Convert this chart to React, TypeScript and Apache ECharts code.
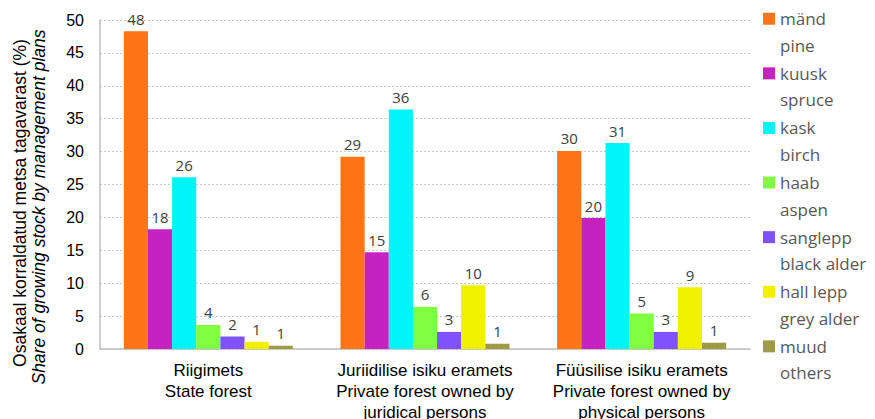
import React, { useEffect, useRef } from "react";
import * as echarts from "echarts";

const categories = [
  "Riigimets\nState forest",
  "Juriidilise isiku eramets\nPrivate forest owned by\njuridical persons",
  "Füüsilise isiku eramets\nPrivate forest owned by\nphysical persons",
];
const speciesEt = ["mänd", "kuusk", "kask", "haab", "sanglepp", "hall lepp", "muud"];
const speciesEn = ["pine", "spruce", "birch", "aspen", "black alder", "grey alder", "others"];
const colors = ["#FF7417", "#C621C1", "#00F6F6", "#80FF40", "#8052FF", "#F1F000", "#9F9B44"];
const mand = [48.3, 29.2, 30.1];
const kuusk = [18.2, 14.7, 19.9];
const kask = [26.1, 36.4, 31.3];
const haab = [3.65, 6.4, 5.4];
const sanglepp = [1.9, 2.6, 2.6];
const hallLepp = [1.1, 9.7, 9.4];
const muud = [0.5, 0.8, 0.96];
const seriesValues = [mand, kuusk, kask, haab, sanglepp, hallLepp, muud];
const yTitle1 = "Osakaal korraldatud metsa tagavarast (%)";
const yTitle2 = "Share of growing stock by management plans";

export default function App() {
  const ref = useRef<HTMLDivElement>(null);
  useEffect(() => {
    if (!ref.current) return;
    const chart = echarts.init(ref.current, null, { renderer: "svg" });
    const enMap: Record<string, string> = {};
    speciesEt.forEach((n, i) => (enMap[n] = speciesEn[i]));
    const legText = {
      fontFamily: "Open Sans, sans-serif",
      fontSize: 17,
      lineHeight: 26.5,
      color: "#595959",
    };
    chart.setOption({
      animation: false,
      grid: {
        left: 100,
        right: 125,
        top: 20,
        bottom: 70,
        containLabel: false,
        outerBoundsMode: "none",
      },
      xAxis: {
        type: "category",
        data: categories,
        axisLine: { show: true, lineStyle: { color: "#BFBFBF", width: 1.5 } },
        axisTick: { show: false },
        axisLabel: {
          interval: 0,
          margin: 11,
          fontFamily: "Liberation Sans, Arial, sans-serif",
          fontSize: 17,
          lineHeight: 21,
          color: "#000000",
        },
      },
      yAxis: {
        type: "value",
        min: 0,
        max: 50,
        interval: 5,
        axisLine: { show: true, lineStyle: { color: "#BFBFBF", width: 1.5 } },
        axisTick: { show: false },
        axisLabel: {
          margin: 16,
          fontFamily: "Liberation Sans, Arial, sans-serif",
          fontSize: 16,
          color: "#000000",
        },
        splitLine: { show: true, lineStyle: { color: "#C8C8C8", type: [2, 2], width: 1 } },
      },
      legend: {
        orient: "vertical",
        left: 763,
        top: -21,
        padding: 0,
        itemWidth: 12,
        itemHeight: 12,
        itemGap: -24.9,
        icon: "rect",
        data: speciesEt,
        formatter: (name: string) => `{e| }\n{a|${name}}\n{a|${enMap[name]}}`,
        textStyle: {
          ...legText,
          rich: {
            e: { ...legText },
            a: { ...legText },
          },
        },
      },
      graphic: [
        {
          type: "text",
          x: 20,
          y: 203,
          rotation: Math.PI / 2,
          style: {
            text: yTitle1,
            font: "17.5px 'Liberation Sans', Arial, sans-serif",
            fill: "#000000",
            textAlign: "center",
            textVerticalAlign: "middle",
          },
        },
        {
          type: "text",
          x: 39,
          y: 207,
          rotation: Math.PI / 2,
          style: {
            text: yTitle2,
            font: "italic 17.5px 'Liberation Sans', Arial, sans-serif",
            fill: "#000000",
            textAlign: "center",
            textVerticalAlign: "middle",
          },
        },
      ],
      series: speciesEt.map((name, i) => ({
        name,
        type: "bar",
        data: seriesValues[i],
        barGap: "0%",
        barCategoryGap: "22%",
        itemStyle: { color: colors[i] },
        label: {
          show: true,
          position: "top",
          distance: 5,
          formatter: (p: any) => String(Math.round(p.value)),
          fontFamily: "Open Sans, sans-serif",
          fontSize: 15,
          color: "#404040",
        },
      })),
    });
    return () => chart.dispose();
  }, []);
  return (
    <div
      ref={ref}
      style={{ position: "fixed", left: 0, top: 0, width: 875, height: 419, background: "#fff" }}
    />
  );
}
